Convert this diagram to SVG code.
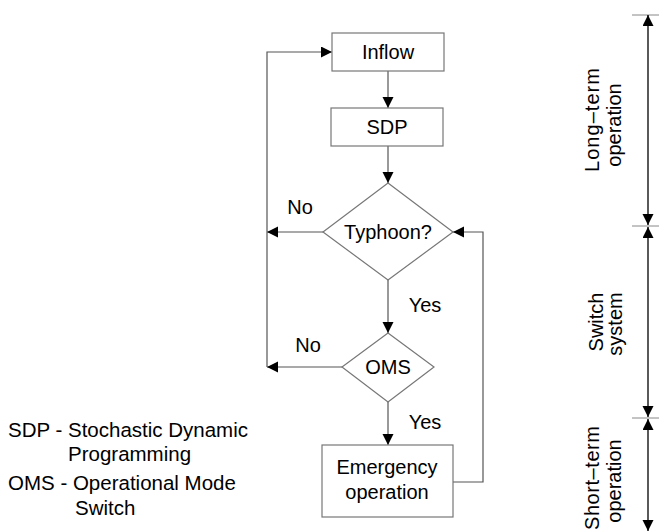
<svg xmlns="http://www.w3.org/2000/svg" width="659" height="532" viewBox="0 0 659 532">
<defs>
<style>
.box{fill:#fff;stroke:#777;stroke-width:1.2}
.ln{fill:none;stroke:#555;stroke-width:1.2}
.bar{fill:none;stroke:#000;stroke-width:1.3}
.tick{fill:none;stroke:#888;stroke-width:1}
text{font-family:"Liberation Sans",Arial,sans-serif;font-size:20px;fill:#000}
.c{text-anchor:middle}
.lg{font-size:20.5px}
</style>
<marker id="ah" markerUnits="userSpaceOnUse" markerWidth="12" markerHeight="12" refX="11" refY="5.5" orient="auto">
<path d="M0,0 L11,5.5 L0,11 Z" fill="#000"/>
</marker>
</defs>
<g id="connectors">
<line class="ln" x1="388" y1="71" x2="388" y2="108" marker-end="url(#ah)"/>
<line class="ln" x1="388" y1="146" x2="388" y2="183" marker-end="url(#ah)"/>
<line class="ln" x1="388" y1="280" x2="388" y2="333" marker-end="url(#ah)"/>
<line class="ln" x1="388" y1="402" x2="388" y2="445" marker-end="url(#ah)"/>
<line class="ln" x1="323" y1="232" x2="267" y2="232" marker-end="url(#ah)"/>
<line class="ln" x1="342" y1="367" x2="267" y2="367" marker-end="url(#ah)"/>
<polyline class="ln" points="267,367 267,52 332,52" marker-end="url(#ah)"/>
<polyline class="ln" points="453,482 483,482 483,232 453,232" marker-end="url(#ah)"/>
<text x="300" y="214" class="c">No</text>
<text x="425" y="312" class="c">Yes</text>
<text x="308" y="352" class="c">No</text>
<text x="425" y="429" class="c">Yes</text>
</g>
<g id="inflow">
<rect class="box" x="332" y="33" width="112" height="38"/>
<text x="388" y="59" class="c">Inflow</text>
</g>
<g id="sdp">
<rect class="box" x="331" y="108" width="112" height="38"/>
<text x="387" y="134" class="c">SDP</text>
</g>
<g id="typhoon">
<polygon class="box" points="388,183 453,232 388,280 323,232"/>
<text x="388" y="239" class="c">Typhoon?</text>
</g>
<g id="oms">
<polygon class="box" points="388,333 434,367 388,402 342,367"/>
<text x="388" y="374" class="c">OMS</text>
</g>
<g id="emergency">
<rect class="box" x="322" y="445" width="131" height="72"/>
<text x="387" y="474" class="c">Emergency</text>
<text x="387" y="499" class="c">operation</text>
</g>
<g id="scale">
<line class="tick" x1="632" y1="15" x2="659" y2="15"/>
<line class="tick" x1="632" y1="226" x2="659" y2="226"/>
<line class="tick" x1="632" y1="418" x2="659" y2="418"/>
<line class="bar" x1="648" y1="120" x2="648" y2="15" marker-end="url(#ah)"/>
<line class="bar" x1="648" y1="120" x2="648" y2="225" marker-end="url(#ah)"/>
<line class="bar" x1="648" y1="320" x2="648" y2="227" marker-end="url(#ah)"/>
<line class="bar" x1="648" y1="320" x2="648" y2="417" marker-end="url(#ah)"/>
<line class="bar" x1="648" y1="470" x2="648" y2="419" marker-end="url(#ah)"/>
<line class="bar" x1="648" y1="470" x2="648" y2="531" marker-end="url(#ah)"/>
<text class="c" transform="translate(599,120) rotate(-90)" textLength="104" lengthAdjust="spacing">Long–term</text>
<text class="c" transform="translate(621,125) rotate(-90)">operation</text>
<text class="c" transform="translate(603,322) rotate(-90)">Switch</text>
<text class="c" transform="translate(622,324) rotate(-90)">system</text>
<text class="c" transform="translate(599,478) rotate(-90)" textLength="104" lengthAdjust="spacing">Short–term</text>
<text class="c" transform="translate(621,481) rotate(-90)">operation</text>
</g>
<g id="legend">
<text class="lg" x="8" y="437">SDP - Stochastic Dynamic</text>
<text class="lg" x="68" y="461">Programming</text>
<text class="lg" x="8" y="490">OMS - Operational Mode</text>
<text class="lg" x="75" y="515">Switch</text>
</g>
</svg>
